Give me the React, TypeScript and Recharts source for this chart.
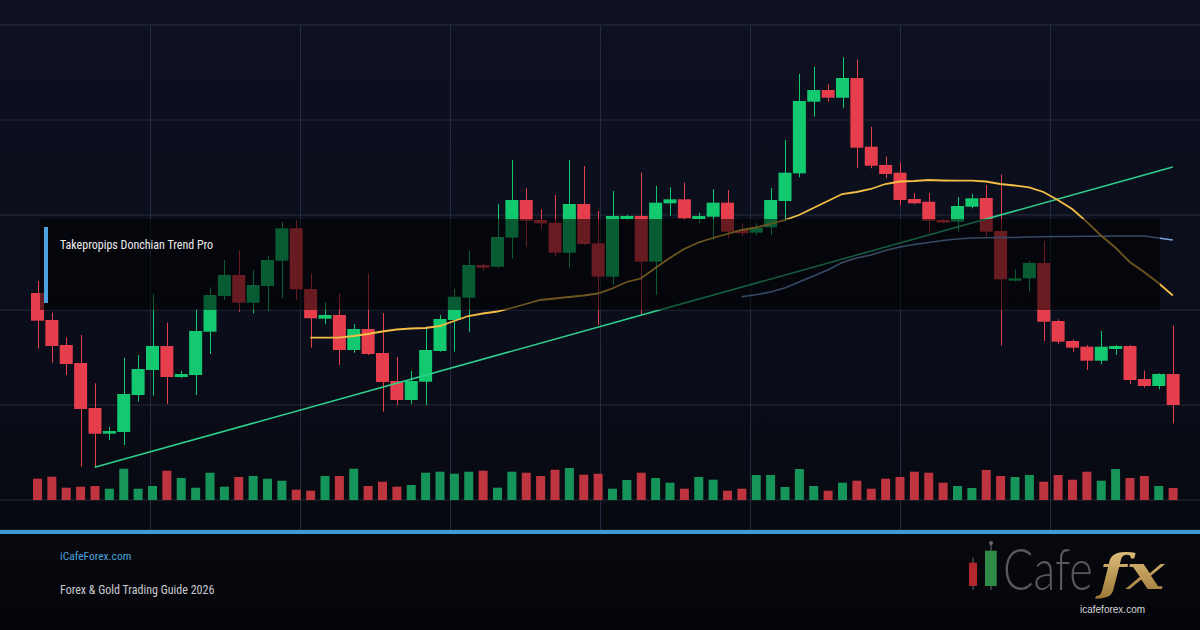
import React from 'react';
import { ComposedChart, Bar, Line, XAxis, YAxis, CartesianGrid, Cell } from 'recharts';

// ---- Data (price units; 1 grid step = 95) ----
const OPEN = [
  2207, 2180, 2155, 2137, 2092, 2066.3, 2068, 2105, 2130, 2154,
  2123, 2125, 2168.3, 2204, 2225, 2197.3, 2214, 2239.3, 2271.7, 2211,
  2181.3, 2185, 2150, 2171, 2147, 2119, 2100, 2118.3, 2149, 2180,
  2202.3, 2235, 2233.3, 2262.3, 2300, 2280, 2277.3, 2247.3, 2296, 2256.7,
  2223.3, 2281, 2284, 2238.3, 2296.7, 2300.7, 2281, 2283.3, 2297.3, 2270,
  2267.3, 2272.7, 2299, 2326.7, 2398.3, 2410, 2402.3, 2422, 2353.3, 2335,
  2327.3, 2301, 2298.3, 2280, 2278.3, 2293.3, 2302, 2269, 2219.3, 2221.7,
  2237, 2179, 2159, 2153.3, 2139.3, 2151, 2154, 2121, 2114, 2126,
];
const CLOSE = [
  2179.3, 2154, 2136, 2091, 2066.3, 2069, 2106, 2131, 2154, 2123,
  2126, 2169, 2205, 2225, 2197.3, 2215, 2240, 2271.7, 2210.7, 2181.7,
  2185, 2150, 2171, 2146, 2118, 2100, 2119, 2150, 2181, 2203.3,
  2235, 2232.3, 2263, 2300, 2279.3, 2276.7, 2247.3, 2296, 2256, 2223.3,
  2284, 2284, 2238.3, 2297.3, 2300.7, 2281.7, 2284, 2297.3, 2268.3, 2266.7,
  2272.3, 2300, 2327.3, 2399, 2410, 2402.3, 2422, 2352.3, 2334.3, 2326,
  2300, 2296.7, 2279.3, 2277.5, 2294, 2301.7, 2268.3, 2220.7, 2221.7, 2237,
  2178.3, 2158.3, 2152.3, 2139.3, 2153.3, 2154, 2120, 2114, 2126, 2095,
];
const HIGH = [
  2219, 2187.3, 2162.7, 2165, 2116.7, 2073.3, 2142.3, 2145, 2206, 2177.3,
  2129, 2190.7, 2212.7, 2240, 2250, 2230, 2244, 2278.3, 2280, 2226.7,
  2197.7, 2206.7, 2176, 2226.7, 2187, 2143, 2129, 2173.3, 2185, 2210.7,
  2249, 2236.7, 2296, 2340, 2311.7, 2290.7, 2305, 2340, 2334, 2289,
  2309, 2285, 2327.3, 2314, 2312.7, 2317.3, 2287.3, 2310.7, 2310, 2276.7,
  2276.7, 2312, 2360, 2426, 2433.3, 2416, 2442.7, 2440.7, 2373.3, 2343.3,
  2337.3, 2306.7, 2307, 2281, 2303, 2306, 2315, 2325.5, 2230.7, 2239,
  2259, 2180.7, 2160.7, 2155, 2169, 2155, 2155, 2129.3, 2126.7, 2174.3,
];
const LOW = [
  2151.3, 2137.3, 2125, 2033.3, 2032.7, 2060, 2055, 2098.3, 2104.3, 2096,
  2122, 2105, 2146, 2200, 2188.3, 2186.7, 2189.3, 2201.7, 2200, 2152.3,
  2175.7, 2135, 2147.3, 2145, 2088.3, 2095, 2096, 2095, 2148.3, 2148.3,
  2168.3, 2229.3, 2232, 2241.7, 2253.3, 2270.7, 2244, 2231.7, 2255, 2175,
  2215, 2279.3, 2185, 2205, 2284.3, 2280, 2276.7, 2260, 2261.7, 2264,
  2265, 2265, 2278.3, 2322.7, 2383.3, 2398.3, 2392.3, 2331.7, 2331.7, 2321.7,
  2295, 2295.7, 2266.7, 2276.7, 2268.3, 2291.7, 2263.7, 2154.5, 2218.3, 2208.3,
  2159, 2155.7, 2148.3, 2130, 2135.7, 2145, 2116, 2112.3, 2110.7, 2076.7,
];
const VOLUME = [
  213, 233, 123, 133, 140, 113, 313, 113, 140, 293,
  220, 123, 273, 133, 230, 240, 213, 193, 103, 93,
  240, 240, 313, 140, 183, 133, 150, 273, 283, 263,
  283, 293, 123, 283, 273, 240, 303, 320, 253, 263,
  113, 200, 273, 220, 173, 113, 230, 203, 93, 113,
  250, 250, 130, 310, 140, 93, 173, 193, 113, 213,
  230, 283, 273, 173, 140, 120, 300, 240, 230, 250,
  183, 250, 203, 283, 193, 310, 220, 240, 140, 120,
];
const MA_GOLD_START = 19;
const MA_GOLD = [
  2162.3, 2162.3, 2162.3, 2164, 2166, 2168.5, 2170.5, 2171.5, 2172, 2174,
  2179, 2184, 2186.5, 2188.5, 2192, 2196, 2200, 2201.5, 2203, 2204.5,
  2206.5, 2211.5, 2218, 2221.5, 2232, 2242, 2251, 2257.5, 2262, 2266,
  2270, 2272.5, 2276, 2280, 2285, 2292, 2299, 2306, 2308, 2311,
  2316, 2318.5, 2319, 2320, 2319.5, 2319.3, 2319.3, 2318.5, 2316, 2314.5,
  2312.7, 2308, 2300, 2291, 2278.3, 2264.5, 2252.5, 2238, 2228, 2217,
  2204.5,
];
const MA_BLUE_START = 49;
const MA_BLUE = [
  2203.3, 2205.2, 2208, 2212, 2218, 2224, 2230, 2237.5, 2242, 2245,
  2249.5, 2253, 2255.5, 2257.5, 2259.5, 2261, 2262, 2262.3, 2262.5, 2262.5,
  2263, 2263.3, 2263.5, 2263.5, 2263.7, 2263.8, 2264, 2264, 2264, 2262,
  2260,
];
const TREND_POINTS = [
  { index: 4, value: 2032.7 },
  { index: 79, value: 2333 },
];
const PRICE_GRID = [2000, 2095, 2190, 2285, 2380, 2475];
// vertical grid positions on a 0..1200 canvas-unit scale
const TIME_GRID = [150, 300, 450, 600, 750, 900, 1050];
const TIME_SPAN = 1200;

const GREEN = '#12c96f';
const RED = '#e63e4c';
const VOL_GREEN = '#16955a';
const VOL_RED = '#be343f';

const rows = OPEN.map((o, i) => {
  const t = TREND_POINTS.find((p) => p.index === i);
  return {
    i,
    open: o,
    close: CLOSE[i],
    high: HIGH[i],
    low: LOW[i],
    vol: VOLUME[i],
    maGold: i >= MA_GOLD_START ? MA_GOLD[i - MA_GOLD_START] : null,
    maBlue: i >= MA_BLUE_START ? MA_BLUE[i - MA_BLUE_START] : null,
    trend: t ? t.value : null,
  };
});

const Candle = (props: any) => {
  const { x, y, width, height, payload } = props;
  if (x == null || y == null || !payload) return null;
  const top = Math.min(y, y + height);
  const h = Math.abs(height);
  const { open, close, high, low } = payload;
  const k = high - low > 0 ? h / (high - low) : 0;
  const oy = top + (high - open) * k;
  const cy = top + (high - close) * k;
  const color = close >= open ? GREEN : RED;
  const bodyTop = Math.min(oy, cy);
  const bodyH = Math.max(1.5, Math.abs(oy - cy));
  const cx = Math.round(x + width / 2) + 0.5;
  return (
    <g>
      <line x1={cx} x2={cx} y1={top} y2={top + h} stroke={color} strokeWidth={1} />
      <rect x={x} y={bodyTop} width={width} height={bodyH} fill={color} />
    </g>
  );
};

const verticalGen = (props: any) => {
  const off = props && props.offset ? props.offset : { left: 0, width: TIME_SPAN };
  return TIME_GRID.map((v) => Math.round(off.left + (v / TIME_SPAN) * off.width) + 0.5);
};

const FONT = "'Liberation Sans Narrow', 'Roboto Condensed', Roboto, sans-serif";

export default function App() {
  return (
    <div
      style={{
        position: 'absolute',
        left: 0,
        top: 0,
        width: 1200,
        height: 630,
        overflow: 'hidden',
        background: 'linear-gradient(180deg, #0d1120 0%, #0a0d19 60%, #07090f 85%, #04050a 100%)',
      }}
    >
      <ComposedChart
        width={1200}
        height={630}
        data={rows}
        margin={{ top: 25, right: 0, bottom: 100, left: 0 }}
      >
        <XAxis xAxisId="c" dataKey="i" type="category" hide padding={{ left: 30, right: 20 }} />
        <XAxis xAxisId="v" dataKey="i" type="category" hide padding={{ left: 30, right: 20 }} />
        <YAxis yAxisId="p" type="number" domain={[1970, 2475]} ticks={PRICE_GRID} hide allowDataOverflow />
        <YAxis yAxisId="vol" type="number" domain={[-300, 4750]} hide allowDataOverflow />
        <CartesianGrid
          xAxisId="c"
          yAxisId="p"
          stroke="#262c40"
          strokeWidth={1}
          verticalCoordinatesGenerator={verticalGen}
        />
        <Bar xAxisId="v" yAxisId="vol" dataKey="vol" barSize={9} isAnimationActive={false}>
          {rows.map((r) => (
            <Cell key={r.i} fill={r.close >= r.open ? VOL_GREEN : VOL_RED} />
          ))}
        </Bar>
        <Bar
          xAxisId="c"
          yAxisId="p"
          dataKey={(d: any) => [d.low, d.high]}
          barSize={13}
          shape={Candle}
          isAnimationActive={false}
        />
        <Line
          xAxisId="c"
          yAxisId="p"
          dataKey="trend"
          stroke="#2fcf8c"
          strokeWidth={1.5}
          dot={false}
          connectNulls
          isAnimationActive={false}
        />
        <Line
          xAxisId="c"
          yAxisId="p"
          dataKey="maBlue"
          stroke="#78a6e0"
          strokeWidth={1.5}
          dot={false}
          isAnimationActive={false}
        />
        <Line
          xAxisId="c"
          yAxisId="p"
          dataKey="maGold"
          stroke="#f4bd46"
          strokeWidth={1.8}
          dot={false}
          isAnimationActive={false}
        />
      </ComposedChart>
      <svg
        width={1200}
        height={630}
        style={{ position: 'absolute', left: 0, top: 0, pointerEvents: 'none' }}
      >
        <defs>
          <linearGradient id="goldfx" x1="0" y1="0" x2="0" y2="1">
            <stop offset="0%" stopColor="#e6c782" />
            <stop offset="100%" stopColor="#9c7636" />
          </linearGradient>
        </defs>
        <rect x={40} y={219} width={1120} height={91} fill="rgba(0,0,0,0.55)" />
        <rect x={44} y={227} width={4} height={76} fill="#4aa3df" />
        <text x={60} y={249} fontFamily={FONT} fontSize={12} fill="#ececec">
          Takepropips Donchian Trend Pro
        </text>
        <rect x={0} y={530} width={1200} height={4} fill="#3f9bd6" />
        <text x={60} y={560} fontFamily={FONT} fontSize={11.5} fill="#4ba2db">
          iCafeForex.com
        </text>
        <text x={60} y={594} fontFamily={FONT} fontSize={12} fill="#c9cacf">
          Forex &amp; Gold Trading Guide 2026
        </text>
        <g>
          <line x1={973} x2={973} y1={557.7} y2={590} stroke="#6a6a6a" strokeWidth={1} />
          <rect x={969} y={562.7} width={8} height={23.3} fill="#b3262b" />
          <line x1={991} x2={991} y1={544} y2={590} stroke="#6a6a6a" strokeWidth={1} />
          <circle cx={991} cy={543} r={2} fill="#6a6a6a" />
          <rect x={985} y={550.7} width={11.7} height={35.3} fill="#2e8b45" />
          <text
            transform="translate(1003,590) scale(1,1.28)"
            x={0}
            y={0}
            fontFamily="Lato, 'Open Sans', sans-serif"
            fontWeight={300}
            fontSize={45}
            fill="#58585d"
          >
            Cafe
          </text>
          <text
            transform="translate(1099,589) scale(1.45,1.1)"
            x={0}
            y={0}
            fontFamily="'DejaVu Serif', serif"
            fontStyle="italic"
            fontWeight="bold"
            fontSize={44}
            fill="url(#goldfx)"
          >
            fx
          </text>
          <text x={1080} y={613} fontFamily="'Liberation Sans', Arial, sans-serif" fontSize={10} fill="#d6d6d6">
            icafeforex.com
          </text>
        </g>
      </svg>
    </div>
  );
}
